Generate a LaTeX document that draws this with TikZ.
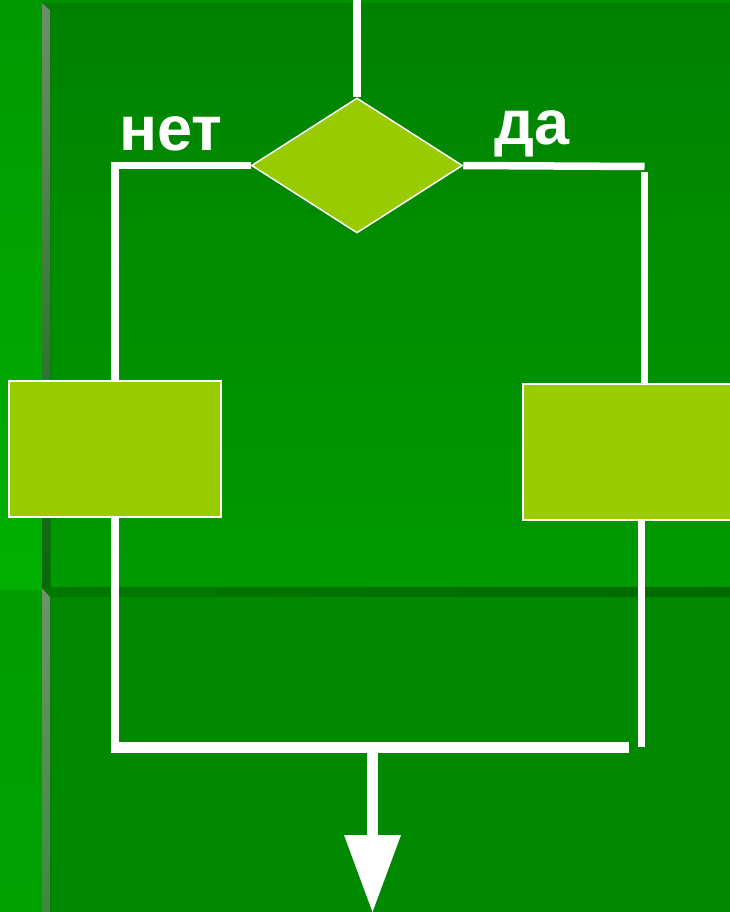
\documentclass[tikz,border=0pt]{standalone}
\usepackage{fontspec}
\setmainfont{Liberation Sans}
\usetikzlibrary{shapes.geometric}
\definecolor{boxgreen}{HTML}{99CC00}
\definecolor{leftA}{HTML}{009900}
\definecolor{leftB}{HTML}{00B000}
\definecolor{leftC}{HTML}{009C00}
\definecolor{leftD}{HTML}{00A200}
\definecolor{mainA}{HTML}{008200}
\definecolor{mainB}{HTML}{009900}
\definecolor{mainTop}{HTML}{009000}
\definecolor{mainLow}{HTML}{008900}
\definecolor{bandA}{HTML}{007800}
\definecolor{bandB}{HTML}{006A00}
\definecolor{stripA}{HTML}{6E8E6E}
\definecolor{stripB}{HTML}{0A660A}
\definecolor{stripC}{HTML}{6E926E}
\definecolor{stripD}{HTML}{3E8A3E}
\tikzset{
  flow/.style={draw=white, line width=7.5pt},
  thickflow/.style={draw=white, line width=11pt},
  shapebox/.style={rectangle, fill=boxgreen, draw=white, line width=1.5pt,
    minimum width=212pt, minimum height=136pt, inner sep=0pt},
  decision/.style={diamond, fill=boxgreen, draw=white, line width=1.5pt,
    minimum width=211pt, minimum height=135pt, inner sep=0pt},
  lbl/.style={text=white, font=\bfseries\fontsize{63}{63}\selectfont,
    inner sep=0pt, anchor=base west}
}
\begin{document}
\begin{tikzpicture}[x=1pt,y=-1pt]
\useasboundingbox (0,0) rectangle (730,912);
% background panels
\fill[top color=leftA, bottom color=leftB] (0,0) rectangle (42,590);
\fill[top color=leftC, bottom color=leftD] (0,590) rectangle (42,912);
\fill[top color=mainA, bottom color=mainB] (42,0) rectangle (730,587);
\fill[mainTop] (42,0) rectangle (730,3);
\fill[top color=stripA, bottom color=stripB] (42,3) -- (50,10) -- (50,588) -- (42,588) -- cycle;
\fill[left color=bandA, right color=bandB] (42,587) rectangle (730,597);
\fill[mainLow] (50,597) rectangle (730,912);
\fill[top color=stripC, bottom color=stripD] (42,588) -- (50,597) -- (50,912) -- (42,912) -- cycle;

% flowchart nodes
\node[decision] (dec) at (357,165.5) {};
\node[shapebox] (lbox) at (115,449) {};
\node[shapebox] (rbox) at (629,452) {};
\node[lbl] (no) at (119,151) {нет};
\node[lbl] (yes) at (494,145) {да};

% coordinates
\coordinate (top) at (357,0);
\coordinate (rturn) at (644.5,166.5);
\coordinate (rdown) at (644.5,172);
\coordinate (lcorner) at (115,747);
\coordinate (hstart) at (111,747);
\coordinate (hend) at (629,747);
\coordinate (rbot) at (641.5,746.7);
\coordinate (join) at (372.5,747);
\coordinate (stemend) at (372.5,836);
\coordinate (tip) at (372.5,912);

% connectors
\draw[flow] (top) -- (dec.north);
\draw[flow] (dec.west) -| (lbox.north);
\draw[flow] (dec.east) -- (rturn);
\draw[flow] (rdown) -- (rdown |- rbox.north);
\draw[flow] (lbox.south) -- (lcorner);
\draw[flow] (rbox.south -| rbot) -- (rbot);
\draw[thickflow] (hstart) -- (hend);
\draw[thickflow] (join) -- (stemend);
\fill[white] ([xshift=-28.5pt,yshift=77pt]tip) -- ([xshift=28.5pt,yshift=77pt]tip) -- (tip) -- cycle;
\end{tikzpicture}
\end{document}
